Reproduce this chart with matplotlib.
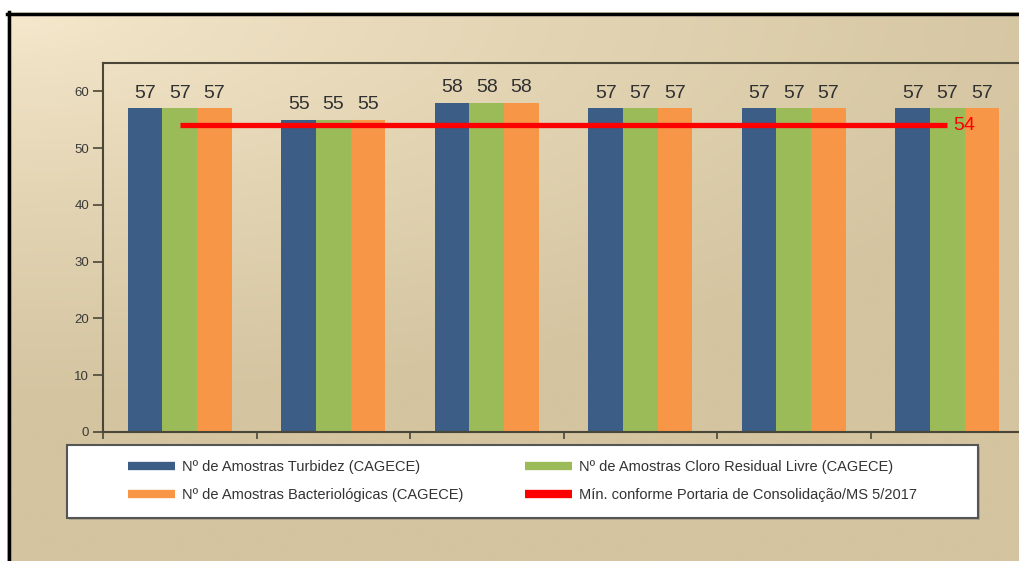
import numpy as np
import matplotlib.pyplot as plt
from matplotlib.lines import Line2D
from matplotlib.patches import Rectangle

plt.rcParams['font.family'] = ['Liberation Sans', 'DejaVu Sans']

# data
grupos = [0, 1, 2, 3, 4, 5]
turbidez = [57, 55, 58, 57, 57, 57]
cloro = [57, 55, 58, 57, 57, 57]
bacterio = [57, 55, 58, 57, 57, 57]
minimo = 54
legendas = ['Nº de Amostras Turbidez (CAGECE)',
            'Nº de Amostras Bacteriológicas (CAGECE)',
            'Nº de Amostras Cloro Residual Livre (CAGECE)',
            'Mín. conforme Portaria de Consolidação/MS 5/2017']

cor_azul = '#3b5d86'
cor_verde = '#9bbb59'
cor_laranja = '#f79646'
cor_vermelho = '#ff0000'
W, H = 1019, 561

fig = plt.figure(figsize=(W / 100, H / 100), dpi=100)
fig.patch.set_facecolor('white')

# background gradient inside the black frame
bg = fig.add_axes([7 / W, 0, 1 - 7 / W, 1 - 12 / H])
bg.set_axis_off()
yy, xx = np.mgrid[0:1:200j, 0:1:400j]
t = np.clip(np.hypot(xx * 0.9, yy * 1.4), 0, 1) ** 0.8
claro = np.array([246, 233, 205]) / 255
escuro = np.array([212, 196, 160]) / 255
img = claro[None, None, :] + (escuro - claro)[None, None, :] * t[:, :, None]
bg.imshow(img, aspect='auto', extent=[0, 1, 0, 1], origin='upper')
bg.set_xlim(0, 1)
bg.set_ylim(0, 1)

# black frame
fig.add_artist(Line2D([8.5 / W, 8.5 / W], [0, 1 - 12 / H], color='black', lw=2.5, transform=fig.transFigure))
fig.add_artist(Line2D([7 / W, 1], [1 - 13.5 / H, 1 - 13.5 / H], color='black', lw=2.5, transform=fig.transFigure))

ax = fig.add_axes([103 / W, 1 - 432 / H, (1024 - 103) / W, (432 - 63) / H])
ax.set_facecolor('none')

x = np.array(grupos)
w = 0.225
ax.bar(x - w, turbidez, w, color=cor_azul, zorder=2)
ax.bar(x, cloro, w, color=cor_verde, zorder=2)
ax.bar(x + w, bacterio, w, color=cor_laranja, zorder=2)

for serie, off in [(turbidez, -w), (cloro, 0), (bacterio, w)]:
    for xi, v in zip(x, serie):
        ax.text(xi + off, v + 1.2, str(v), ha='center', va='bottom', fontsize=14, color='#303030')

ax.plot([x[0], x[-1]], [minimo, minimo], color=cor_vermelho, lw=3.8, zorder=3, solid_capstyle='butt')
ax.text(x[-1] + 0.04, minimo, str(minimo), color=cor_vermelho, fontsize=14, va='center', ha='left')

ax.set_xlim(-0.5, 5.5)
ax.set_ylim(0, 65)
ax.set_yticks([0, 10, 20, 30, 40, 50, 60])
ax.set_xticks(np.arange(-0.5, 6, 1))
ax.set_xticklabels([])
ax.tick_params(axis='y', length=7, width=1.2, color='#4a4638', labelsize=9.5, labelcolor='#3a3a3a', pad=3)
ax.tick_params(axis='x', length=5, width=1.2, color='#4a4638')
for s in ['left', 'top', 'bottom']:
    ax.spines[s].set_color('#4a4638')
    ax.spines[s].set_linewidth(1.5)
ax.spines['right'].set_visible(False)

# legend box
fig.add_artist(Rectangle((69 / W, 1 - 520 / H), (978 - 67) / W, 73 / H, transform=fig.transFigure,
                         facecolor='#9a9080', edgecolor='none', alpha=0.6))
fig.add_artist(Rectangle((67 / W, 1 - 518 / H), (978 - 67) / W, 73 / H, transform=fig.transFigure,
                         facecolor='white', edgecolor='#555555', lw=1.5))

handles = [Line2D([], [], color=cor_azul, lw=6, solid_capstyle='butt'),
           Line2D([], [], color=cor_laranja, lw=6, solid_capstyle='butt'),
           Line2D([], [], color=cor_verde, lw=6, solid_capstyle='butt'),
           Line2D([], [], color=cor_vermelho, lw=6, solid_capstyle='butt')]
leg = fig.legend(handles, legendas, ncol=2, loc='upper left', bbox_to_anchor=(128 / W, 1 - 460 / H),
                 frameon=False, fontsize=10.5, borderpad=0, borderaxespad=0, handlelength=3.2,
                 handletextpad=0.5, columnspacing=4.25, labelspacing=0.95)
for txt in leg.get_texts():
    txt.set_color('#333333')

fig.savefig('out.png', dpi=100)
